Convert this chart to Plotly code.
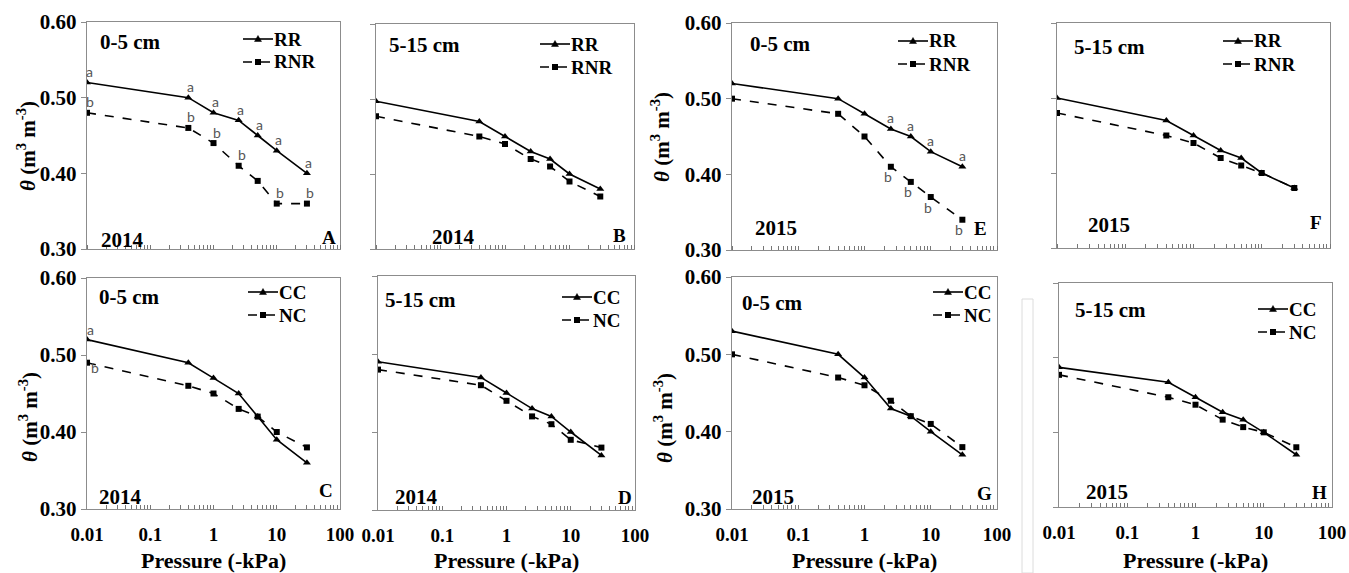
import math
import plotly.graph_objects as go

W, H = 1349, 573

# ---------------- data ----------------
pressure = [0.01, 0.4, 1, 2.5, 5, 10, 30]

A_RR = [0.52, 0.50, 0.48, 0.47, 0.45, 0.43, 0.40]
A_RNR = [0.48, 0.46, 0.44, 0.41, 0.39, 0.36, 0.36]
B_RR = [0.497, 0.47, 0.45, 0.43, 0.42, 0.40, 0.38]
B_RNR = [0.477, 0.45, 0.44, 0.42, 0.41, 0.39, 0.37]
E_RR = [0.52, 0.50, 0.48, 0.46, 0.45, 0.43, 0.41]
E_RNR = [0.50, 0.48, 0.45, 0.41, 0.39, 0.37, 0.34]
F_RR = [0.50, 0.47, 0.45, 0.43, 0.42, 0.40, 0.38]
F_RNR = [0.48, 0.45, 0.44, 0.42, 0.41, 0.40, 0.38]
C_CC = [0.52, 0.49, 0.47, 0.45, 0.42, 0.39, 0.36]
C_NC = [0.49, 0.46, 0.45, 0.43, 0.42, 0.40, 0.38]
D_CC = [0.49, 0.47, 0.45, 0.43, 0.42, 0.40, 0.37]
D_NC = [0.48, 0.46, 0.44, 0.42, 0.41, 0.39, 0.38]
G_CC = [0.53, 0.50, 0.47, 0.43, 0.42, 0.40, 0.37]
G_NC = [0.50, 0.47, 0.46, 0.44, 0.42, 0.41, 0.38]
H_CC = [0.487, 0.467, 0.447, 0.427, 0.417, 0.40, 0.37]
H_NC = [0.477, 0.447, 0.437, 0.417, 0.407, 0.40, 0.38]

# significance letters ("" = none)
A_RR_sig = ["a", "a", "a", "a", "a", "a", "a"]
A_RNR_sig = ["b", "b", "b", "b", "", "b", "b"]
E_RR_sig = ["", "", "", "a", "a", "a", "a"]
E_RNR_sig = ["", "", "", "b", "b", "b", "b"]
C_CC_sig = ["a", "", "", "", "", "", ""]
C_NC_sig = ["b", "", "", "", "", "", ""]

y_ticks = [0.30, 0.40, 0.50, 0.60]
y_tick_text = ["0.30", "0.40", "0.50", "0.60"]
x_major = [0.01, 0.1, 1, 10, 100]
x_major_text = ["0.01", "0.1", "1", "10", "100"]

# ---------------- layout config (pixels) ----------------
panels = [
    dict(tag="A", box=(87, 340, 22, 249), n1="RR", v1=A_RR, n2="RNR", v2=A_RNR, depth="0-5 cm", year="2014",
         yl=True, xl=False, leg=(243, 39, 62), dpos=(98, 42), ypos=(99, 240), lpos=(338, 237),
         sig1=A_RR_sig, sig2=A_RNR_sig, s1shift=(2, 11), s2shift=(3, 11), ytitle=(26, 146)),
    dict(tag="B", box=(376, 634, 24, 249), n1="RR", v1=B_RR, n2="RNR", v2=B_RNR, depth="5-15 cm", year="2014",
         yl=False, xl=False, leg=(540, 44, 67), dpos=(387, 45), ypos=(430, 237), lpos=(628, 235)),
    dict(tag="E", box=(732, 997, 23, 250), n1="RR", v1=E_RR, n2="RNR", v2=E_RNR, depth="0-5 cm", year="2015",
         yl=True, xl=False, leg=(898, 41, 64), dpos=(748, 44), ypos=(753, 228), lpos=(989, 228),
         sig1=E_RR_sig, sig2=E_RNR_sig, s1shift=(0, 11), s2shift=(-3, -10), ytitle=(661, 137)),
    dict(tag="F", box=(1057, 1330, 23, 248), n1="RR", v1=F_RR, n2="RNR", v2=F_RNR, depth="5-15 cm", year="2015",
         yl=False, xl=False, leg=(1223, 41, 64), dpos=(1072, 47), ypos=(1086, 225), lpos=(1324, 222)),
    dict(tag="C", box=(87, 340, 278, 509), n1="CC", v1=C_CC, n2="NC", v2=C_NC, depth="0-5 cm", year="2014",
         yl=True, xl=True, leg=(248, 292, 315), dpos=(97, 297), ypos=(97, 497), lpos=(335, 490),
         sig1=C_CC_sig, sig2=C_NC_sig, s1shift=(3, 10), s2shift=(8, -5), ytitle=(28, 417)),
    dict(tag="D", box=(378, 635, 276, 510), n1="CC", v1=D_CC, n2="NC", v2=D_NC, depth="5-15 cm", year="2014",
         yl=False, xl=True, leg=(562, 297, 320), dpos=(383, 300), ypos=(393, 497), lpos=(634, 497)),
    dict(tag="G", box=(732, 997, 277, 509), n1="CC", v1=G_CC, n2="NC", v2=G_NC, depth="0-5 cm", year="2015",
         yl=True, xl=True, leg=(933, 292, 315), dpos=(740, 303), ypos=(750, 497), lpos=(994, 493), ytitle=(663, 418)),
    dict(tag="H", box=(1059, 1332, 283, 507), n1="CC", v1=H_CC, n2="NC", v2=H_NC, depth="5-15 cm", year="2015",
         yl=False, xl=True, leg=(1258, 309, 332), dpos=(1073, 310), ypos=(1084, 492), lpos=(1329, 492)),
]

SERIF = "Liberation Serif, Times New Roman, serif"
FRAME = "#8c8c8c"
TICKC = "#777"


def px(x):
    return x / W


def py(y):
    return 1 - y / H


minor = []
for dec in [0.01, 0.1, 1, 10]:
    for k in range(2, 10):
        minor.append(round(dec * k, 6))

fig = go.Figure()
annotations = []
shapes = []
layout = {}


def bold_font(size, fam=SERIF):
    return dict(family=fam, size=size, color="black", weight="bold")


for i, p in enumerate(panels):
    n = i + 1
    sfx = "" if n == 1 else str(n)
    xa, ya = "x" + sfx, "y" + sfx
    x0, x1, y0, y1 = p["box"]

    xaxis = dict(
        type="log", range=[-2, 2], domain=[px(x0), px(x1)], anchor=ya, automargin=False,
        showline=True, linecolor=FRAME, linewidth=1.3, mirror=True,
        showgrid=False, zeroline=False, tickmode="array",
    )
    if p["xl"]:
        xaxis.update(
            tickvals=x_major, ticktext=x_major_text, showticklabels=True,
            ticks="inside", ticklen=4, tickwidth=1, tickcolor=TICKC,
            minor=dict(tickmode="array", tickvals=minor, ticks="inside", ticklen=4,
                       tickwidth=1, tickcolor=TICKC, showgrid=False),
            ticklabelstandoff=8, tickfont=bold_font(19),
        )
    else:
        xaxis.update(
            tickvals=[], showticklabels=False, ticks="",
            minor=dict(tickmode="array", tickvals=minor + x_major, ticks="inside", ticklen=4,
                       tickwidth=1, tickcolor=TICKC, showgrid=False),
        )
    layout["xaxis" + sfx] = xaxis

    yaxis = dict(
        range=[0.30, 0.60], domain=[py(y1), py(y0)], anchor=xa, automargin=False,
        showline=True, linecolor=FRAME, linewidth=1.3, mirror=True,
        showgrid=False, zeroline=False, tickmode="array",
    )
    if p["yl"]:
        yaxis.update(
            tickvals=y_ticks, ticktext=y_tick_text, showticklabels=True,
            ticks="outside", ticklen=5, tickwidth=1, tickcolor=FRAME,
            tickfont=bold_font(21),
        )
    else:
        yaxis.update(
            tickvals=[], showticklabels=False, ticks="",
            minor=dict(tickmode="array", tickvals=y_ticks, ticks="outside", ticklen=5,
                       tickwidth=1, tickcolor=FRAME, showgrid=False),
        )
    layout["yaxis" + sfx] = yaxis

    fig.add_trace(go.Scatter(
        x=pressure, y=p["v1"], name=p["n1"], xaxis=xa, yaxis=ya, showlegend=False,
        mode="lines+markers", line=dict(color="black", width=1.6),
        marker=dict(symbol="triangle-up", size=7, color="black"),
    ))
    fig.add_trace(go.Scatter(
        x=pressure, y=p["v2"], name=p["n2"], xaxis=xa, yaxis=ya, showlegend=False,
        mode="lines+markers", line=dict(color="black", width=1.6, dash="dash"),
        marker=dict(symbol="square", size=6, color="black"),
    ))

    # hand-drawn legend (line sample + marker + label)
    lx, r1, r2 = p["leg"]
    for ry, dash, name, sym in ((r1, "solid", p["n1"], "tri"), (r2, "dash", p["n2"], "sq")):
        shapes.append(dict(type="line", xref="paper", yref="paper",
                           x0=px(lx), x1=px(lx + 30), y0=py(ry), y1=py(ry),
                           line=dict(color="black", width=1.6, dash=dash)))
        cx = lx + 15
        if sym == "tri":
            path = "M {:.5f} {:.5f} L {:.5f} {:.5f} L {:.5f} {:.5f} Z".format(
                px(cx - 3.5), py(ry + 2.5), px(cx + 3.5), py(ry + 2.5), px(cx), py(ry - 3.5))
            shapes.append(dict(type="path", xref="paper", yref="paper", path=path,
                               fillcolor="black", line=dict(color="black", width=0.5)))
        else:
            shapes.append(dict(type="rect", xref="paper", yref="paper",
                               x0=px(cx - 3), x1=px(cx + 3), y0=py(ry + 3), y1=py(ry - 3),
                               fillcolor="black", line=dict(color="black", width=0)))
        annotations.append(dict(x=px(lx + 30), y=py(ry), xref="paper", yref="paper", text=name,
                                showarrow=False, xanchor="left", yanchor="middle",
                                borderpad=0, font=bold_font(19)))

    dx, dy = p["dpos"]
    annotations.append(dict(x=px(dx), y=py(dy), xref="paper", yref="paper", text=p["depth"],
                            showarrow=False, xanchor="left", yanchor="middle", font=bold_font(21)))
    yx, yy = p["ypos"]
    annotations.append(dict(x=px(yx), y=py(yy), xref="paper", yref="paper", text=p["year"],
                            showarrow=False, xanchor="left", yanchor="middle", font=bold_font(21)))
    tx, ty = p["lpos"]
    annotations.append(dict(x=px(tx), y=py(ty), xref="paper", yref="paper", text=p["tag"],
                            showarrow=False, xanchor="right", yanchor="middle", font=bold_font(19)))

    if p["yl"]:
        tx2, ty2 = p["ytitle"]
        annotations.append(dict(x=px(tx2), y=py(ty2), xref="paper", yref="paper",
                                text="<i>θ</i> (m<sup>3</sup> m<sup>-3</sup>)", textangle=-90,
                                showarrow=False, xanchor="center", yanchor="middle",
                                font=bold_font(21)))
    if p["xl"]:
        annotations.append(dict(x=px((x0 + x1) / 2), y=py(560), xref="paper", yref="paper",
                                text="Pressure (-kPa)", showarrow=False,
                                xanchor="center", yanchor="middle", font=bold_font(22)))

    for key_sig, key_val, key_shift in (("sig1", "v1", "s1shift"), ("sig2", "v2", "s2shift")):
        if key_sig in p:
            sx, sy = p[key_shift]
            for xv, yv, lab in zip(pressure, p[key_val], p[key_sig]):
                if lab:
                    annotations.append(dict(x=math.log10(xv), y=yv, xref=xa, yref=ya,
                                            text=lab, showarrow=False, xshift=sx, yshift=sy,
                                            font=dict(family="Lato", size=14, color="#555")))

shapes.append(dict(type="rect", xref="paper", yref="paper", x0=px(1022), x1=px(1033), y0=0, y1=py(299),
                   line=dict(color="#dcdcdc", width=1)))

fig.update_layout(
    width=W, height=H, margin=dict(l=0, r=0, t=0, b=0, autoexpand=False),
    paper_bgcolor="white", plot_bgcolor="white",
    font=dict(family=SERIF),
    showlegend=False, annotations=annotations, shapes=shapes,
    **layout,
)

fig.write_html(
    "out.html",
    config={"displayModeBar": False, "staticPlot": True},
    post_script="document.body.style.margin='0';document.body.style.padding='0';document.body.style.overflow='hidden';",
)
